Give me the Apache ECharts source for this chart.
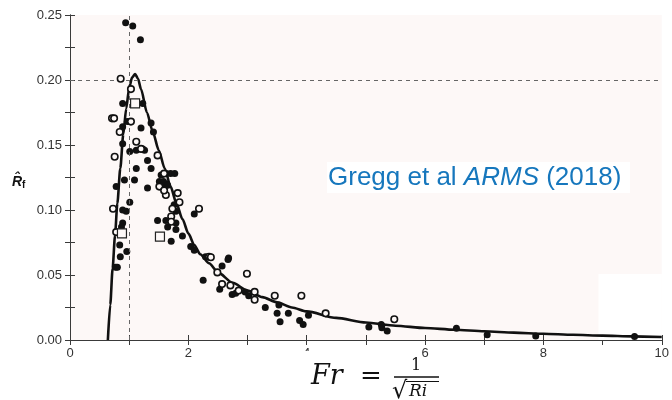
<!DOCTYPE html>
<html>
<head>
<meta charset="utf-8">
<script src="https://cdn.jsdelivr.net/npm/echarts/dist/echarts.min.js"></script>
<style>
html,body{margin:0;padding:0;background:#fff;}
#chart{width:672px;height:400px;}
</style>
</head>
<body>
<div id="chart"></div>
<script>
// ---- data ----
const xTickLabels = ['0', '2', '4', '6', '8', '10'];
const yTickLabels = ['0.00', '0.05', '0.10', '0.15', '0.20', '0.25'];

const curveX = [0.64, 0.68, 0.72, 0.76, 0.80, 0.85, 0.90, 0.95, 1.00, 1.05, 1.10, 1.15, 1.20, 1.30, 1.40, 1.50, 1.60, 1.70, 1.80, 1.90, 2.00, 2.10, 2.20, 2.35, 2.50, 2.75, 3.00, 3.25, 3.50, 3.75, 4.00, 4.50, 5.00, 5.50, 6.00, 6.50, 7.00, 7.50, 8.00, 8.50, 9.00, 9.50, 10.00];
const curveY = [0.000, 0.027, 0.055, 0.080, 0.105, 0.132, 0.158, 0.178, 0.194, 0.202, 0.2045, 0.201, 0.193, 0.175, 0.160, 0.146, 0.132, 0.118, 0.105, 0.093, 0.082, 0.073, 0.066, 0.059, 0.052, 0.044, 0.038, 0.033, 0.029, 0.025, 0.022, 0.017, 0.0135, 0.011, 0.0092, 0.0079, 0.0067, 0.0057, 0.0048, 0.0040, 0.0034, 0.0028, 0.0023];

const filledX = [0.94, 1.06, 1.19, 0.89, 1.23, 0.97, 0.89, 1.20, 1.37, 1.41, 0.89, 1.23, 1.01, 1.12, 1.26, 1.31, 1.12, 1.37, 0.92, 0.78, 1.09, 1.31, 1.51, 1.59, 1.01, 0.89, 0.95, 0.89, 0.87, 1.48, 0.84, 0.96, 0.77, 0.80, 0.85, 1.63, 1.70, 1.77, 1.62, 1.76, 1.79, 2.10, 1.62, 1.79, 1.65, 1.79, 1.90, 1.71, 2.04, 2.10, 2.68, 2.25, 2.29, 2.67, 2.57, 2.53, 2.74, 2.80, 2.96, 3.02, 3.53, 3.30, 3.50, 3.69, 3.55, 3.88, 3.94, 4.03, 5.05, 5.26, 5.27, 5.36, 6.53, 7.05, 7.87, 9.54, 1.54, 1.58, 1.65];
const filledY = [0.244, 0.2415, 0.231, 0.182, 0.182, 0.168, 0.164, 0.163, 0.167, 0.160, 0.151, 0.147, 0.145, 0.146, 0.146, 0.138, 0.132, 0.132, 0.123, 0.118, 0.123, 0.117, 0.122, 0.117, 0.106, 0.100, 0.099, 0.090, 0.087, 0.092, 0.073, 0.068, 0.056, 0.056, 0.064, 0.128, 0.128, 0.128, 0.120, 0.104, 0.099, 0.097, 0.092, 0.090, 0.087, 0.085, 0.080, 0.076, 0.072, 0.069, 0.063, 0.046, 0.064, 0.062, 0.057, 0.039, 0.035, 0.036, 0.037, 0.034, 0.027, 0.025, 0.0205, 0.0205, 0.014, 0.015, 0.012, 0.019, 0.010, 0.012, 0.0095, 0.007, 0.009, 0.004, 0.003, 0.0026, 0.127, 0.122, 0.119];

const openX = [0.856, 1.03, 0.71, 0.745, 1.03, 0.84, 1.12, 0.755, 1.20, 1.48, 1.51, 1.62, 0.727, 0.78, 1.59, 1.59, 1.82, 1.85, 1.73, 2.18, 1.71, 1.71, 2.35, 2.38, 2.49, 2.99, 2.57, 2.71, 2.85, 3.12, 3.12, 3.46, 3.91, 4.32, 5.48];
const openY = [0.201, 0.193, 0.1705, 0.1705, 0.168, 0.160, 0.1525, 0.141, 0.147, 0.142, 0.118, 0.1115, 0.101, 0.083, 0.128, 0.115, 0.113, 0.106, 0.101, 0.101, 0.095, 0.091, 0.064, 0.0636, 0.052, 0.051, 0.043, 0.042, 0.038, 0.037, 0.031, 0.034, 0.034, 0.0205, 0.016];

const squareX = [1.10, 0.878, 1.52];
const squareY = [0.182, 0.082, 0.0795];

const refX = 1;      // vertical dashed reference
const refY = 0.2;    // horizontal dashed reference

// ---- chart ----
const zip = (xs, ys) => xs.map((x, i) => [x, ys[i]]);
const plotBg = '#fdf8f7';
const frame = '#3a3a3a';
const labelFont = 'Liberation Sans';

const chart = echarts.init(document.getElementById('chart'), null, {renderer: 'canvas'});

const xLab = v => { const s = String(Math.round(v)); return xTickLabels.includes(s) ? s : ''; };
const yLab = v => { const s = v.toFixed(2); return (Math.abs(v * 1000 % 50) < 1e-6 || Math.abs(v * 1000 % 50 - 50) < 1e-6) && yTickLabels.includes(s) ? s : ''; };

const axisCommon = {
  type: 'value',
  axisLine: {show: true, lineStyle: {color: frame, width: 1}},
  axisTick: {show: true, inside: true, length: 5, lineStyle: {color: frame, width: 1}},
  splitLine: {show: false}
};

chart.setOption({
  animation: false,
  backgroundColor: '#ffffff',
  grid: {left: 70, right: 6, top: 15, bottom: 60, show: true, backgroundColor: plotBg, borderWidth: 0},
  xAxis: [
    Object.assign({}, axisCommon, {position: 'bottom', min: 0, max: 10, interval: 1,
      axisLabel: {formatter: xLab, color: '#333', fontSize: 13, fontFamily: labelFont, margin: 7}}),
    Object.assign({}, axisCommon, {position: 'top', min: 0, max: 10, interval: 1, axisLabel: {show: false}})
  ],
  yAxis: [
    Object.assign({}, axisCommon, {position: 'left', min: 0, max: 0.25, interval: 0.025,
      axisLabel: {formatter: yLab, color: '#333', fontSize: 13, fontFamily: labelFont, margin: 8}}),
    Object.assign({}, axisCommon, {position: 'right', min: 0, max: 0.25, interval: 0.025, axisLabel: {show: false}})
  ],
  series: [
    {
      name: 'refs', type: 'line', data: [], z: 1, silent: true,
      markArea: {silent: true, itemStyle: {color: '#ffffff'},
        data: [[{xAxis: 8.93, yAxis: 0}, {xAxis: 10, yAxis: 0.0508}]]},
      markLine: {silent: true, symbol: 'none', label: {show: false},
        lineStyle: {color: '#666', type: [4, 4], width: 1},
        data: [{xAxis: refX}, {yAxis: refY}]}
    },
    {
      name: 'fit', type: 'line', data: zip(curveX, curveY), z: 3, showSymbol: false,
      smooth: 0.25, smoothMonotone: 'x',
      lineStyle: {color: '#111', width: 2.6}
    },
    {
      name: 'filled', type: 'scatter', data: zip(filledX, filledY), z: 4,
      symbol: 'circle', symbolSize: 7, itemStyle: {color: '#111', opacity: 1}
    },
    {
      name: 'open', type: 'scatter', data: zip(openX, openY), z: 5,
      symbol: 'circle', symbolSize: 6.5,
      itemStyle: {color: plotBg, borderColor: '#111', borderWidth: 1.6, opacity: 1}
    },
    {
      name: 'square', type: 'scatter', data: zip(squareX, squareY), z: 5,
      symbol: 'rect', symbolSize: 9,
      itemStyle: {color: plotBg, borderColor: '#222', borderWidth: 1.2, opacity: 1}
    }
  ],
  graphic: [
    // annotation box
    {type: 'rect', z: 100, shape: {x: 327, y: 162, width: 303, height: 31}, style: {fill: '#ffffff'}},
    {type: 'text', z: 101, x: 328, y: 178,
      style: {
        text: '{n|Gregg et al }{i|ARMS}{n| (2018)}',
        verticalAlign: 'middle', align: 'left',
        rich: {
          n: {fontFamily: labelFont, fontSize: 26, fill: '#1677bd', color: '#1677bd'},
          i: {fontFamily: labelFont, fontSize: 26, fontStyle: 'italic', fill: '#1677bd', color: '#1677bd'}
        }
      }},
    // y-axis title
    {type: 'text', z: 101, x: 12, y: 182,
      style: {
        text: '{r|R\u0302}{s|f}', verticalAlign: 'middle', align: 'left',
        rich: {
          r: {fontFamily: labelFont, fontSize: 14, fontWeight: 'bold', fontStyle: 'italic', fill: '#111', color: '#111'},
          s: {fontFamily: labelFont, fontSize: 10, fontWeight: 'bold', fill: '#111', color: '#111', padding: [6, 0, 0, 0]}
        }
      }},
    // x-axis formula
    {type: 'rect', z: 100, shape: {x: 298, y: 351, width: 122, height: 49}, style: {fill: '#ffffff'}},
    {type: 'text', z: 101, x: 311, y: 377,
      style: {text: 'Fr', fontFamily: 'DejaVu Serif', fontStyle: 'italic', fontSize: 27, fill: '#111', verticalAlign: 'middle', align: 'left'}},
    {type: 'text', z: 101, x: 360, y: 377,
      style: {text: '=', fontFamily: 'DejaVu Serif', fontSize: 26, fill: '#111', verticalAlign: 'middle', align: 'left'}},
    {type: 'text', z: 101, x: 416, y: 366,
      style: {text: '1', fontFamily: 'DejaVu Serif', fontSize: 16, fill: '#111', verticalAlign: 'middle', align: 'center'}},
    {type: 'line', z: 101, shape: {x1: 394, y1: 377, x2: 439, y2: 377}, style: {stroke: '#111', lineWidth: 1.3}},
    {type: 'text', z: 101, x: 392, y: 392,
      style: {text: '\u221A', fontFamily: 'DejaVu Serif', fontSize: 24, fill: '#111', verticalAlign: 'middle', align: 'left'}},
    {type: 'line', z: 101, shape: {x1: 406, y1: 381.5, x2: 439, y2: 381.5}, style: {stroke: '#111', lineWidth: 1.1}},
    {type: 'text', z: 101, x: 409, y: 392,
      style: {text: 'Ri', fontFamily: 'DejaVu Serif', fontStyle: 'italic', fontSize: 17, fill: '#111', verticalAlign: 'middle', align: 'left'}}
  ]
});
</script>
</body>
</html>
